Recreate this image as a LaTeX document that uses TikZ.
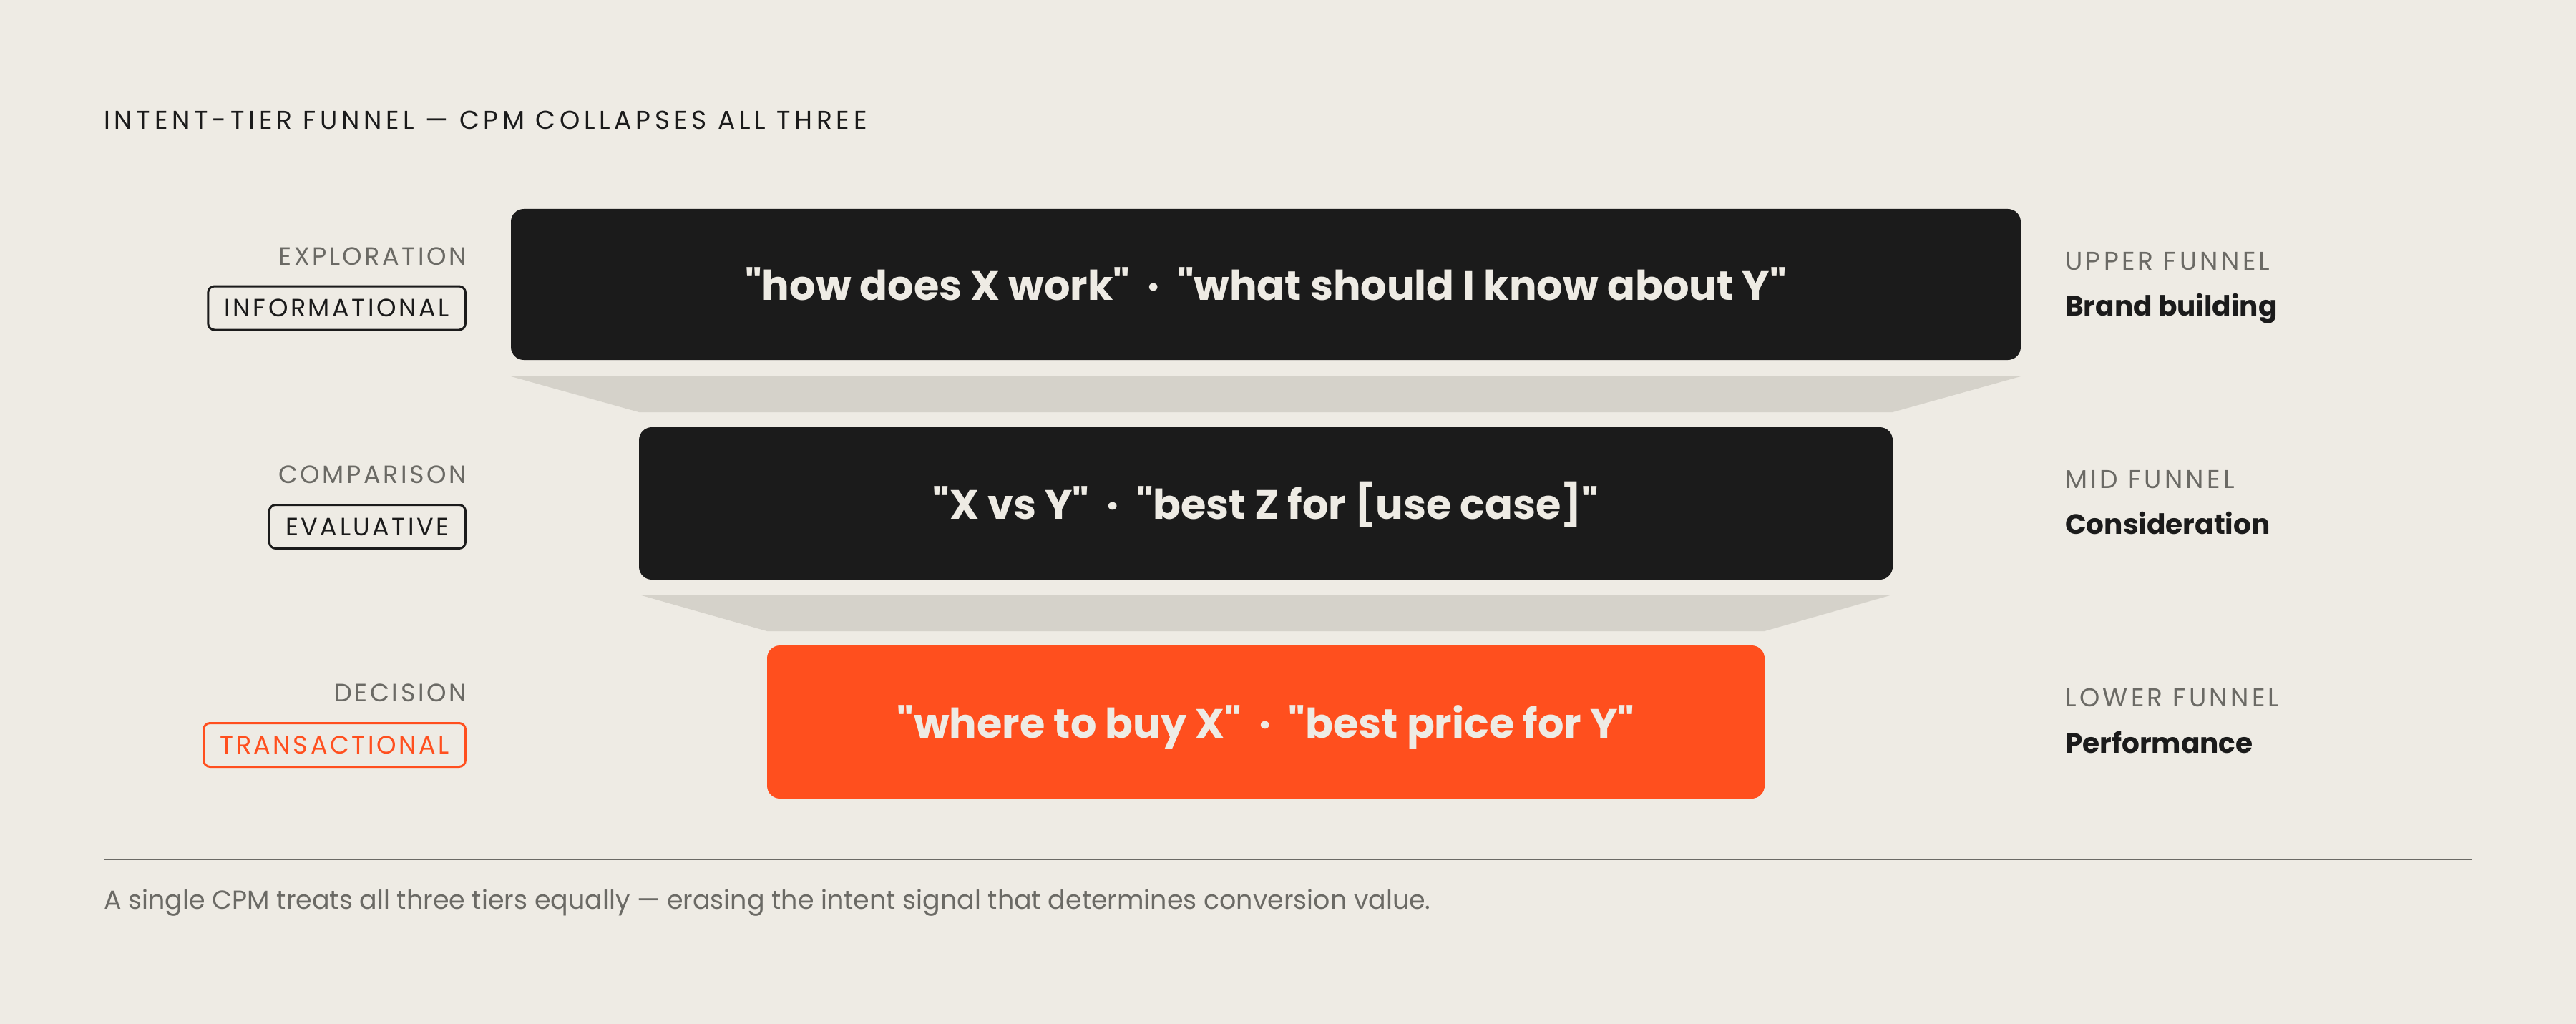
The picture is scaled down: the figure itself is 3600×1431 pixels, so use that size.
\documentclass[tikz,border=0pt]{standalone}
\usepackage{fontspec}
\newfontfamily\pop{Poppins}
\newfontfamily\trackfont[LetterSpace=10]{Poppins}
\newfontfamily\trackwide[LetterSpace=12]{Poppins}
\newfontfamily\tracktitle[LetterSpace=16]{Poppins}
\definecolor{bg}{HTML}{EEEBE4}
\definecolor{ink}{HTML}{1B1B1B}
\definecolor{trap}{HTML}{D5D2CA}
\definecolor{accent}{HTML}{FF4F1E}
\definecolor{muted}{HTML}{6B6A65}
\definecolor{paper}{HTML}{EEEBE4}
\tikzset{
  tier/.style={fill=ink, rounded corners=18pt},
  funnelgap/.style={fill=trap},
  boxtext/.style={anchor=base, text=paper, font=\pop\fontsize{57.3}{63}\selectfont\bfseries, inner sep=0pt},
  kicker/.style={anchor=base east, text=muted, font=\fontsize{35}{40}\selectfont\trackfont, inner sep=0pt},
  pill/.style={anchor=east, draw=ink, text=ink, line width=3pt, rounded corners=9pt, minimum height=61pt, inner xsep=23pt, inner ysep=0pt, font=\fontsize{35}{40}\selectfont\trackfont},
  rkicker/.style={anchor=base west, text=muted, font=\fontsize{36}{40}\selectfont\trackwide, inner sep=0pt},
  rlabel/.style={anchor=base west, text=ink, font=\pop\fontsize{39}{46}\selectfont\bfseries, inner sep=0pt},
}
\begin{document}
\begin{tikzpicture}[x=1pt, y=-1pt]
\fill[bg] (0,0) rectangle (3600,1431);
\useasboundingbox (0,0) rectangle (3600,1431);

\node[anchor=base west, text=ink, font=\fontsize{36}{40}\selectfont\tracktitle, inner sep=0pt] (title) at (145,181) {INTENT-TIER FUNNEL — CPM COLLAPSES ALL THREE};

% tiers
\fill[tier] (714,292) rectangle (2824,503);
\fill[funnelgap] (714,526) -- (2824,526) -- (2645,576) -- (893,576) -- cycle;
\fill[tier] (893,597) rectangle (2645,810);
\fill[funnelgap] (893,831) -- (2645,831) -- (2466,882) -- (1072,882) -- cycle;
\fill[tier, fill=accent] (1072,902) rectangle (2466,1116);

\node[boxtext] (t1) at (1769,419) {"how does X work"\ \ ·\ \ "what should I know about Y"};
\node[boxtext] (t2) at (1769,725) {"X vs Y"\ \ ·\ \ "best Z for [use case]"};
\node[boxtext] (t3) at (1769,1031) {"where to buy X"\ \ ·\ \ "best price for Y"};

% left labels
\node[kicker] (k1) at (652,370) {EXPLORATION};
\node[pill] (p1) at (652,430.5) {INFORMATIONAL};
\node[kicker] (k2) at (652,675) {COMPARISON};
\node[pill] (p2) at (652,736) {EVALUATIVE};
\node[kicker] (k3) at (652,980) {DECISION};
\node[pill, draw=accent, text=accent] (p3) at (652,1041) {TRANSACTIONAL};

% right labels
\node[rkicker] (r1) at (2886,377) {UPPER FUNNEL};
\node[rlabel] (s1) at (2886,441) {Brand building};
\node[rkicker] (r2) at (2886,682) {MID FUNNEL};
\node[rlabel] (s2) at (2886,746) {Consideration};
\node[rkicker] (r3) at (2886,987) {LOWER FUNNEL};
\node[rlabel] (s3) at (2886,1052) {Performance};

% footer
\coordinate (ra) at (145,1201);
\coordinate (rb) at (3455,1201);
\draw[muted, line width=2.5pt] (ra) -- (rb);
\node[anchor=base west, text=muted, font=\pop\fontsize{36.4}{40}\selectfont, inner sep=0pt] (foot) at (145,1270) {A single CPM treats all three tiers equally — erasing the intent signal that determines conversion value.};
\end{tikzpicture}
\end{document}
